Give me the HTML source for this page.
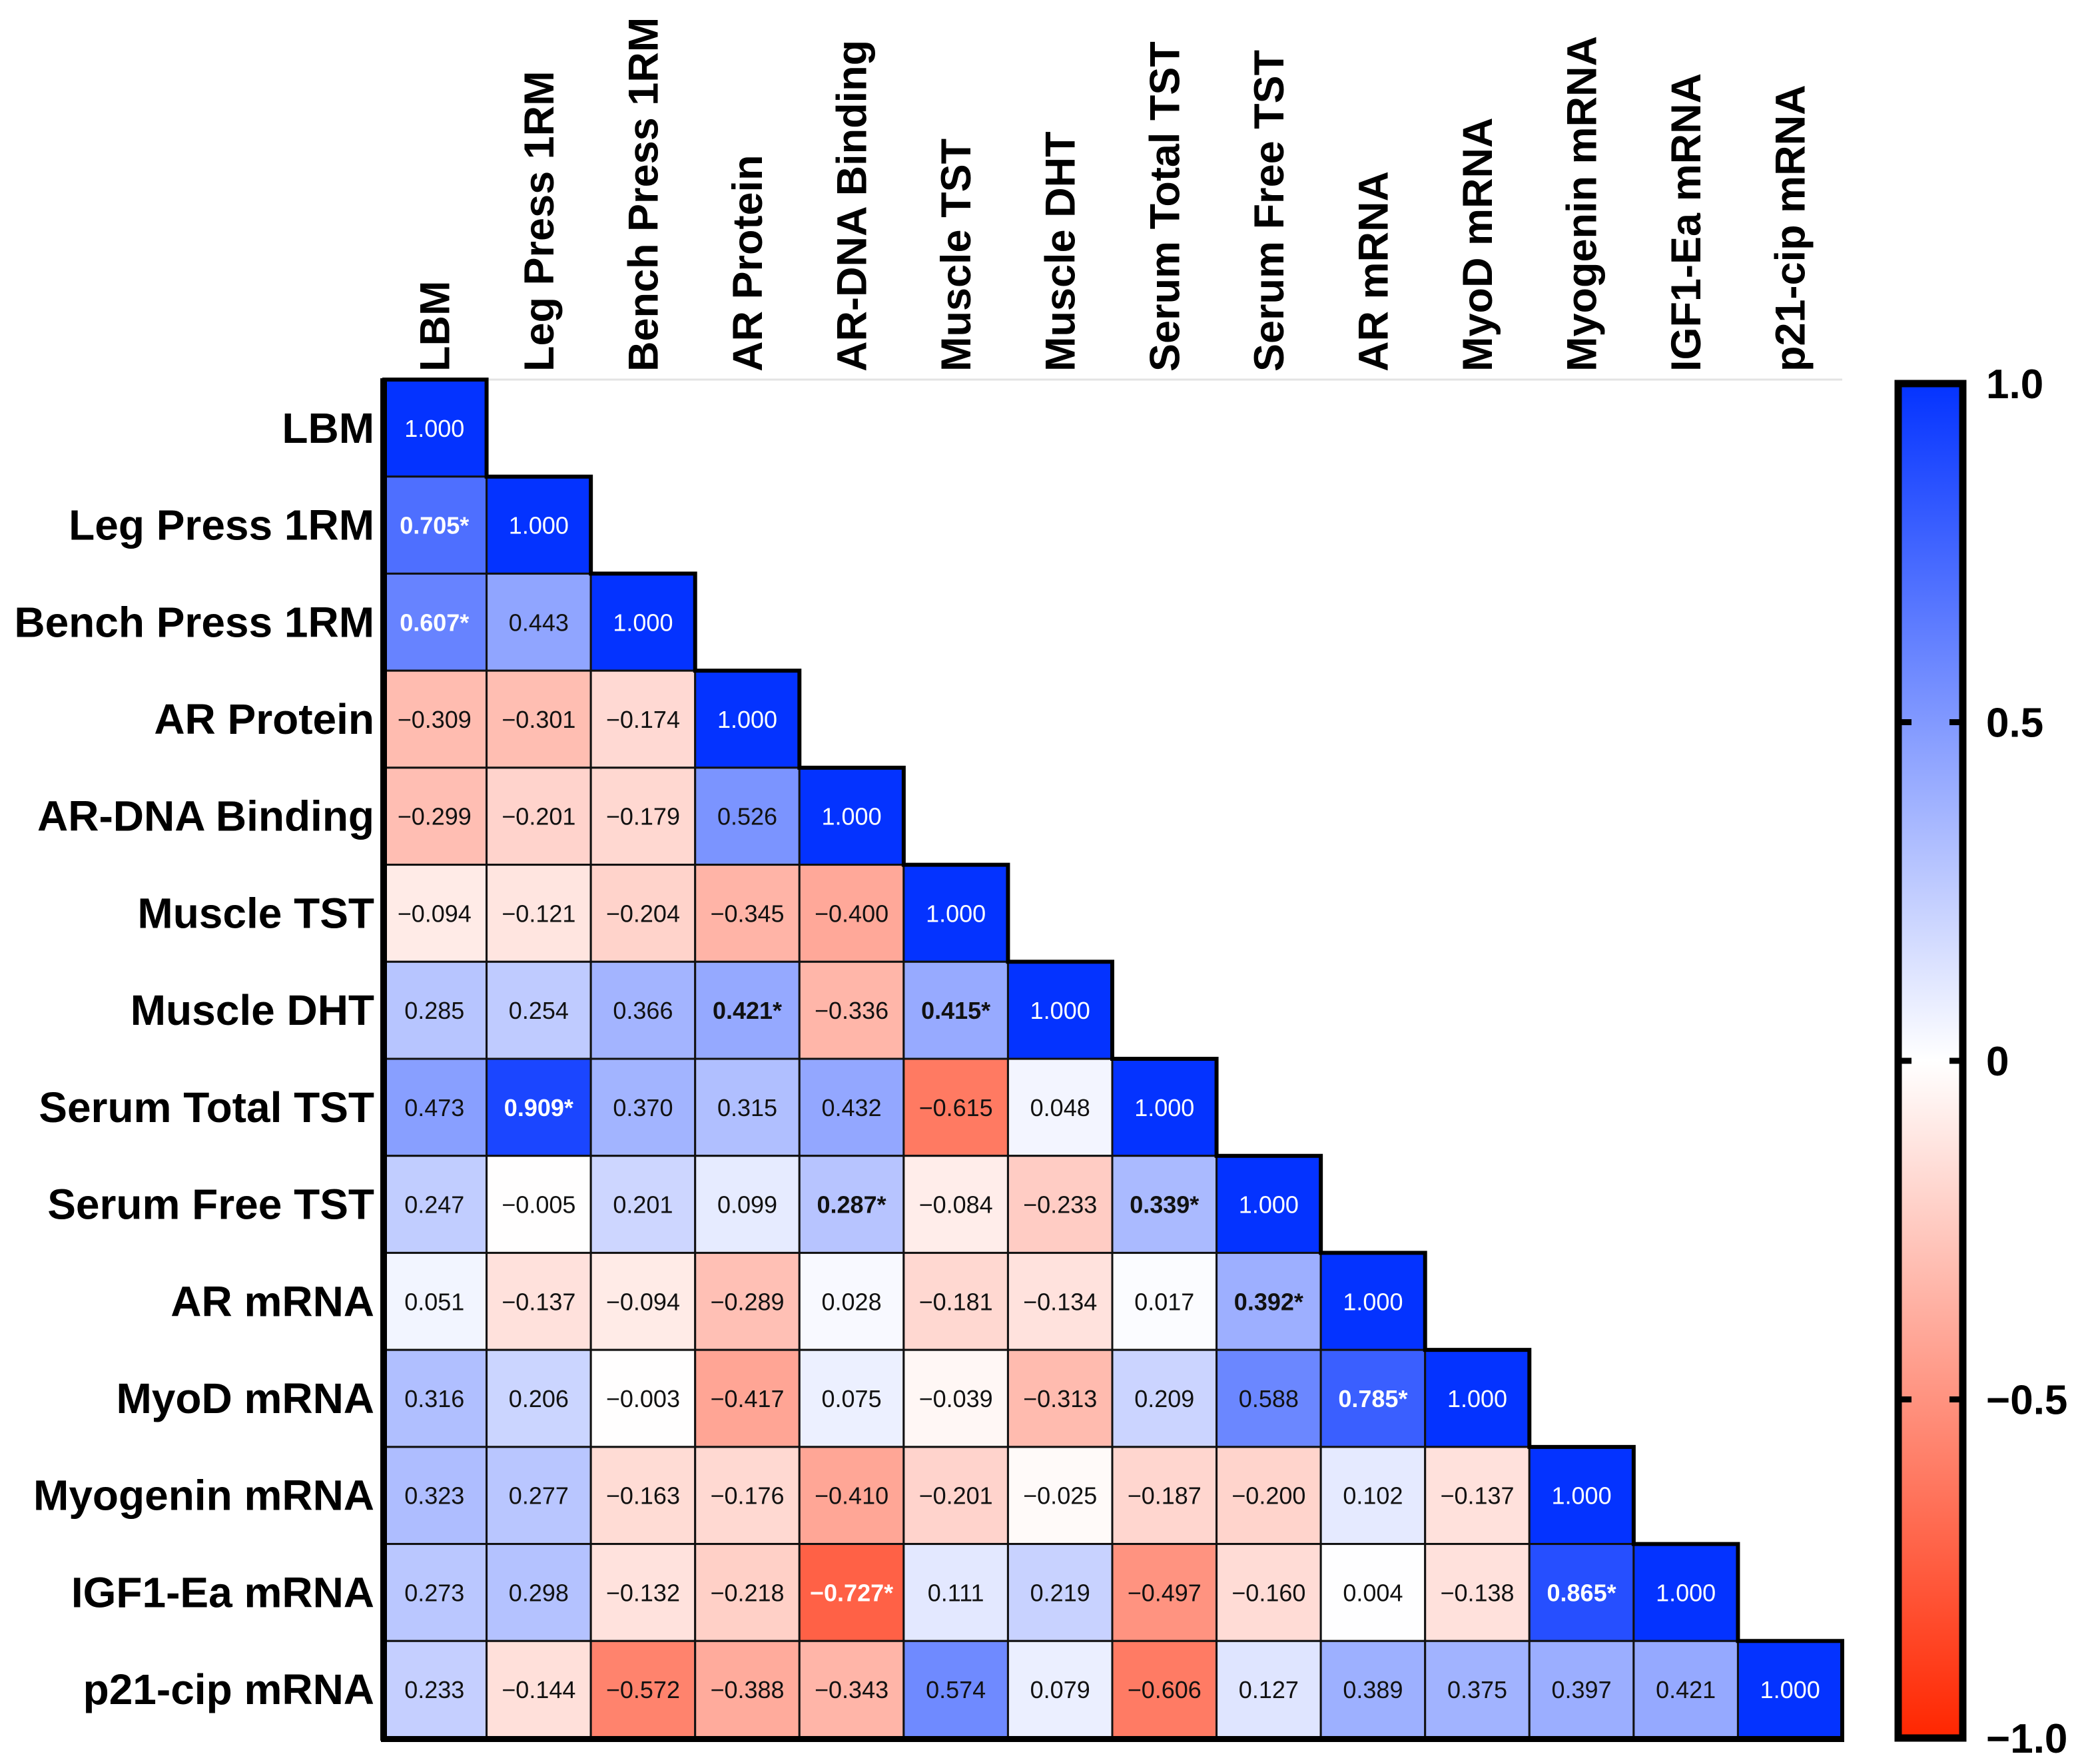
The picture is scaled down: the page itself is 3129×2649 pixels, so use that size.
<!DOCTYPE html>
<html><head><meta charset="utf-8"><style>
html,body{margin:0;padding:0;background:#fff}
svg{display:block;font-family:"Liberation Sans",Arial,sans-serif}
</style></head><body>
<svg id="chart" width="3129" height="2649" viewBox="0 0 3129 2649" xmlns="http://www.w3.org/2000/svg">
<defs>
<linearGradient id="cbgrad" x1="0" y1="0" x2="0" y2="1">
<stop offset="0" stop-color="#0433FF"/><stop offset="0.5" stop-color="#FFFFFF"/><stop offset="1" stop-color="#FF2600"/>
</linearGradient>
</defs>
<g id="cells"></g>
<g id="rowlabels"></g>
<g id="collabels"></g>
<g id="colorbar"></g>
</svg>
<script>
const labels = ["LBM","Leg Press 1RM","Bench Press 1RM","AR Protein","AR-DNA Binding","Muscle TST","Muscle DHT","Serum Total TST","Serum Free TST","AR mRNA","MyoD mRNA","Myogenin mRNA","IGF1-Ea mRNA","p21-cip mRNA"];
const values = [
[1],
[0.705,1],
[0.607,0.443,1],
[-0.309,-0.301,-0.174,1],
[-0.299,-0.201,-0.179,0.526,1],
[-0.094,-0.121,-0.204,-0.345,-0.400,1],
[0.285,0.254,0.366,0.421,-0.336,0.415,1],
[0.473,0.909,0.370,0.315,0.432,-0.615,0.048,1],
[0.247,-0.005,0.201,0.099,0.287,-0.084,-0.233,0.339,1],
[0.051,-0.137,-0.094,-0.289,0.028,-0.181,-0.134,0.017,0.392,1],
[0.316,0.206,-0.003,-0.417,0.075,-0.039,-0.313,0.209,0.588,0.785,1],
[0.323,0.277,-0.163,-0.176,-0.410,-0.201,-0.025,-0.187,-0.200,0.102,-0.137,1],
[0.273,0.298,-0.132,-0.218,-0.727,0.111,0.219,-0.497,-0.160,0.004,-0.138,0.865,1],
[0.233,-0.144,-0.572,-0.388,-0.343,0.574,0.079,-0.606,0.127,0.389,0.375,0.397,0.421,1]
];
const significant = [
[0],[1,0],[1,0,0],[0,0,0,0],[0,0,0,0,0],[0,0,0,0,0,0],
[0,0,0,1,0,1,0],[0,1,0,0,0,0,0,0],[0,0,0,0,1,0,0,1,0],
[0,0,0,0,0,0,0,0,1,0],[0,0,0,0,0,0,0,0,0,1,0],
[0,0,0,0,0,0,0,0,0,0,0,0],[0,0,0,0,1,0,0,0,0,0,0,1,0],
[0,0,0,0,0,0,0,0,0,0,0,0,0,0]
];
const cbTicks = [1.0,0.5,0,-0.5,-1.0];
const cbTickLabels = ["1.0","0.5","0","\u22120.5","\u22121.0"];

const NS="http://www.w3.org/2000/svg";
const X0=574, Y0=570, CW=(2766-574)/14, RH=(2610-570)/14;
const xs=i=>X0+i*CW, ys=i=>Y0+i*RH;
const CB={x:2850,y:576,w:97,h:2034};
const cbY=v=>CB.y+(1-v)/2*CB.h;
function mk(tag,attrs,parent){const e=document.createElementNS(NS,tag);for(const k in attrs)e.setAttribute(k,attrs[k]);parent.appendChild(e);return e;}
function color(v){
  const t=Math.min(1,Math.abs(v));
  const c=v>=0?[4,51,255]:[255,38,0];
  const r=Math.round(255+(c[0]-255)*t),g=Math.round(255+(c[1]-255)*t),b=Math.round(255+(c[2]-255)*t);
  return `rgb(${r},${g},${b})`;
}
function fmt(v){return (v<0?"\u2212":"")+Math.abs(v).toFixed(3);}
const cells=document.getElementById('cells');
const ax=mk('line',{x1:X0,y1:Y0,x2:xs(14),y2:Y0,stroke:'#e3e3e3','stroke-width':3},cells);


values.forEach((row,r)=>{
  row.forEach((v,c)=>{
    const g=mk('g',{},cells);
    
    
    mk('rect',{x:xs(c),y:ys(r),width:CW,height:RH,fill:color(v),stroke:'#111','stroke-width':3},g);
    const sig=significant[r][c]===1;
    const white=(v===1)||(sig&&Math.abs(v)>0.6);
    const t=mk('text',{x:xs(c)+CW/2,y:ys(r)+RH/2+13,'text-anchor':'middle','font-size':36,'font-weight':sig?'bold':'normal',fill:white?'#fff':'#111'},g);
    t.textContent=fmt(v)+(sig?'*':'');
  });
});
let d=`M${X0},${Y0} L${X0},${ys(14)} L${xs(14)},${ys(14)}`;
for(let i=13;i>=0;i--){d+=` L${xs(i+1)},${ys(i)} L${xs(i)},${ys(i)}`;}
const ol=mk('path',{d:d,fill:'none',stroke:'#000','stroke-width':6},cells);


mk('line',{x1:X0+2,y1:Y0-2,x2:X0+2,y2:ys(14)+4,stroke:'#000','stroke-width':10},cells);
mk('line',{x1:X0-2,y1:ys(14)+2,x2:xs(14)+3,y2:ys(14)+2,stroke:'#000','stroke-width':8},cells);

const rl=document.getElementById('rowlabels'), cl=document.getElementById('collabels');
labels.forEach((lab,i)=>{
  const t=mk('text',{x:562,y:ys(i)+RH/2+22,'text-anchor':'end','font-size':64,'font-weight':'bold',fill:'#000'},rl);
  
  
  t.textContent=lab;
  const cx=xs(i)+CW/2+22, cy=558;
  const u=mk('text',{x:cx,y:cy,'text-anchor':'start','font-size':63,'font-weight':'bold',fill:'#000',transform:`rotate(-90 ${cx} ${cy})`},cl);
  
  
  u.textContent=lab;
});

const cb=document.getElementById('colorbar');
const bar=mk('rect',{x:CB.x,y:CB.y,width:CB.w,height:CB.h,fill:'url(#cbgrad)',stroke:'#000','stroke-width':11},cb);


cbTicks.forEach((v,i)=>{
  const y=cbY(v);
  mk('line',{x1:CB.x,y1:y,x2:CB.x+20,y2:y,stroke:'#000','stroke-width':9},cb);
  mk('line',{x1:CB.x+CB.w-20,y1:y,x2:CB.x+CB.w,y2:y,stroke:'#000','stroke-width':9},cb);
  const t=mk('text',{x:2982,y:y+22,'font-size':62,'font-weight':'bold',fill:'#000'},cb);
  
  
  t.textContent=cbTickLabels[i];
});
</script>
</body></html>
